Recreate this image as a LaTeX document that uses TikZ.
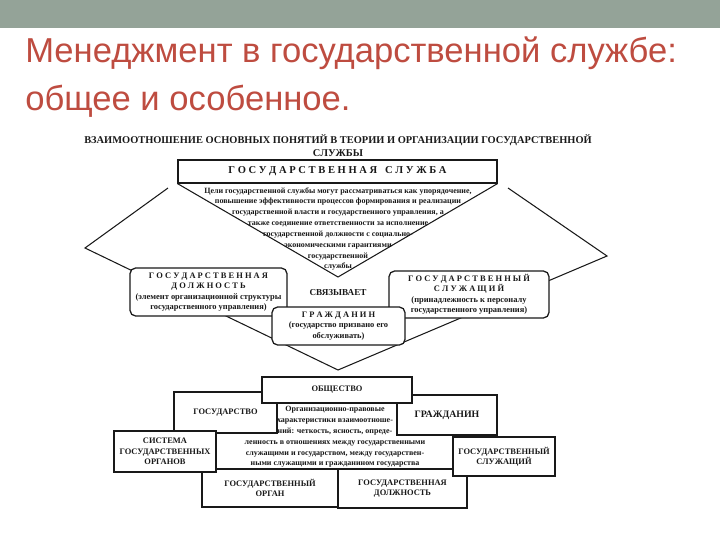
\documentclass[tikz,border=0pt]{standalone}
\usepackage{fontspec}
\setmainfont{Liberation Serif}
\newfontfamily\titlefont{Liberation Sans}
\usetikzlibrary{positioning, fit, calc}

\definecolor{bandgreen}{RGB}{148,163,152}
\definecolor{titlered}{RGB}{190,76,64}
\definecolor{ink}{RGB}{25,25,25}

\begin{document}
\begin{tikzpicture}[
	x=0.025cm, y=-0.025cm,
	wh/.style 2 args={minimum width=#1*0.025cm, minimum height=#2*0.025cm},
	box/.style={rectangle, draw=ink, line width=0.8pt, fill=white, inner sep=0pt, align=center, font=\fontsize{6}{7.4}\selectfont\bfseries, text=ink},
	rbox/.style={box, rounded corners=4pt, line width=0.9pt},
	edge/.style={draw=ink, line width=0.75pt},
	note/.style={align=center, inner sep=0pt, text=ink, font=\fontsize{5.7}{7.7}\selectfont\bfseries}
]
	\useasboundingbox (0,0) rectangle (720,540);
	\fill[bandgreen] (0,0) rectangle (720,28);

	% Slide title
	\node[anchor=base west, inner sep=0, text=titlered, font=\titlefont\fontsize{24.6}{30}\selectfont] (title1) at (25,62) {Менеджмент в государственной службе:};
	\node[anchor=base west, inner sep=0, text=titlered, font=\titlefont\fontsize{24.6}{30}\selectfont] (title2) at (25,110) {общее и особенное.};

	% Heading of the scheme
	\node[note, font=\fontsize{7.4}{9.2}\selectfont\bfseries] (head) at (338,146) {ВЗАИМООТНОШЕНИЕ ОСНОВНЫХ ПОНЯТИЙ В ТЕОРИИ И ОРГАНИЗАЦИИ ГОСУДАРСТВЕННОЙ\\СЛУЖБЫ};

	% Corners of the big rhombus
	\coordinate (tl) at (168,188);
	\coordinate (tr) at (508,188);
	\coordinate (lv) at (85,248);
	\coordinate (rv) at (607,256);
	\coordinate (apex) at (338,277);
	\coordinate (low) at (338,370);
	\draw[edge] (tl) -- (lv) -- (low) -- (rv) -- (tr);

	% Upper part
	\node[box, wh={319}{23}, font=\fontsize{7.5}{9}\selectfont\bfseries] (sluzhba) at (337.5,171.5) {Г О С У Д А Р С Т В Е Н Н А Я \ \ С Л У Ж Б А};
	\draw[edge] (sluzhba.south west) -- (apex) -- (sluzhba.south east);
	\node[note] (goals) at (338,229) {Цели государственной службы могут рассматриваться как упорядочение,\\повышение эффективности процессов формирования и реализации\\государственной власти и государственного управления, а\\также соединение ответственности за исполнение\\государственной должности с социально-\\экономическими гарантиями\\государственной\\службы};
	\node[note, font=\fontsize{6.5}{8}\selectfont\bfseries] (link) at (338,293) {СВЯЗЫВАЕТ};

	\node[rbox, wh={157}{48}] (dolzh) at (208.5,292) {Г О С У Д А Р С Т В Е Н Н А Я\\Д О Л Ж Н О С Т Ь\\(элемент организационной структуры\\государственного управления)};
	\node[rbox, wh={160}{47}] (sluzh) at (469,294.5) {Г О С У Д А Р С Т В Е Н Н Ы Й\\С Л У Ж А Щ И Й\\(принадлежность к персоналу\\государственного управления)};
	\node[rbox, wh={133}{38}] (grazh) at (338.5,326) {Г Р А Ж Д А Н И Н\\(государство призвано его\\обслуживать)};

	% Lower part
	\node[box, wh={237}{72}] (rules) at (334.5,434) {};
	\node[note] (rulestext) at (335,437) {Организационно-правовые\\характеристики взаимоотноше-\\ний: четкость, ясность, опреде-\\ленность в отношениях между государственными\\служащими и государством, между государствен-\\ными служащими и гражданином государства};
	\node[box, wh={103}{41}] (state) at (225.5,412.5) {ГОСУДАРСТВО};
	\node[box, wh={100}{40}, font=\fontsize{7}{8}\selectfont\bfseries] (citizen) at (447,415) {ГРАЖДАНИН};
	\node[box, wh={150}{26}] (society) at (337,390) {ОБЩЕСТВО};
	\node[box, wh={136}{38}] (organ) at (270,488) {ГОСУДАРСТВЕННЫЙ\\ОРГАН};
	\node[box, wh={129}{39}] (post) at (402.5,488.5) {ГОСУДАРСТВЕННАЯ\\ДОЛЖНОСТЬ};
	\node[box, wh={102}{41}] (system) at (165,451.5) {СИСТЕМА\\ГОСУДАРСТВЕННЫХ\\ОРГАНОВ};
	\node[box, wh={102}{39}] (servant) at (504,456.5) {ГОСУДАРСТВЕННЫЙ\\СЛУЖАЩИЙ};
\end{tikzpicture}
\end{document}
